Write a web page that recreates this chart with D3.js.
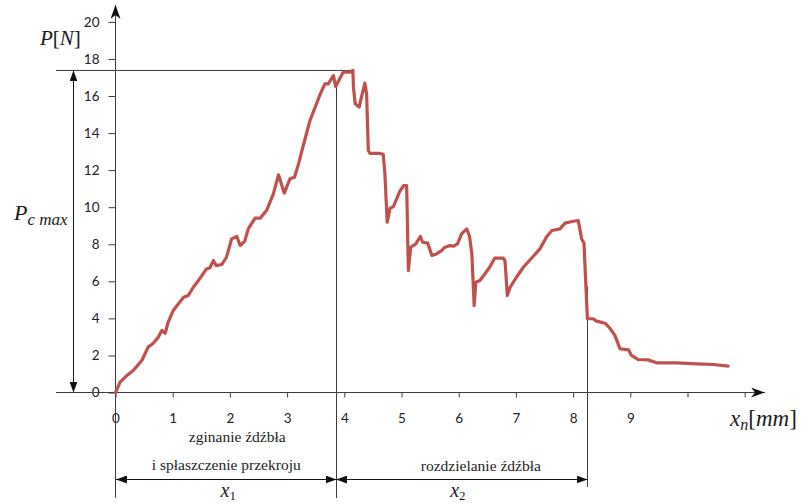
<!DOCTYPE html>
<html>
<head>
<meta charset="utf-8">
<script src="https://cdn.jsdelivr.net/npm/d3@7"></script>
<style>
  body { margin: 0; background: #fff; }
  svg { display: block; }
</style>
</head>
<body>
<svg width="808" height="504"></svg>
<script>

// displacement x_n [mm] and force P [N]
const xn = [0, 0.08, 0.2, 0.31, 0.46, 0.57, 0.66, 0.75, 0.81, 0.87, 0.92, 1.01, 1.10, 1.19, 1.27, 1.36, 1.45, 1.59, 1.65, 1.71,
            1.76, 1.86, 1.94, 2.03, 2.12, 2.18, 2.26, 2.32, 2.44, 2.53, 2.64, 2.76, 2.85, 2.95, 3.05, 3.13, 3.2, 3.26, 3.40, 3.57,
            3.66, 3.72, 3.81, 3.85, 3.92, 3.98, 4.10, 4.15, 4.16, 4.19, 4.26, 4.30, 4.36, 4.39, 4.42, 4.45, 4.62, 4.68, 4.71, 4.75,
            4.80, 4.86, 4.97, 5.04, 5.09, 5.12, 5.16, 5.25, 5.33, 5.37, 5.46, 5.53, 5.61, 5.70, 5.76, 5.85, 5.91, 5.98, 6.05, 6.14,
            6.19, 6.23, 6.27, 6.30, 6.37, 6.46, 6.54, 6.63, 6.78, 6.81, 6.85, 6.90, 7.01, 7.13, 7.28, 7.42, 7.54, 7.63, 7.77, 7.86,
            7.98, 8.09, 8.15, 8.19, 8.25, 8.35, 8.41, 8.56, 8.65, 8.73, 8.82, 8.97, 9.02, 9.14, 9.31, 9.46, 9.81, 10.16, 10.45, 10.71];
const p  = [0, 0.56, 0.92, 1.19, 1.73, 2.45, 2.66, 2.99, 3.35, 3.2, 3.79, 4.43, 4.79, 5.14, 5.23, 5.68, 6.04, 6.67, 6.73, 7.12,
            6.85, 6.91, 7.3, 8.29, 8.42, 7.93, 8.17, 8.83, 9.41, 9.41, 9.82, 10.72, 11.75, 10.76, 11.53, 11.62, 12.34, 13.06, 14.68, 16.03,
            16.66, 16.66, 17.1, 16.51, 16.93, 17.29, 17.29, 17.38, 16.48, 15.58, 15.4, 15.94, 16.69, 16.12, 13.06, 12.9, 12.9, 12.85, 11.8, 9.19,
            9.95, 10.04, 10.85, 11.17, 11.17, 6.58, 7.84, 8.02, 8.42, 8.11, 8.06, 7.39, 7.48, 7.66, 7.84, 7.93, 7.9, 8.02, 8.56, 8.83,
            8.42, 7.48, 4.69, 5.95, 6.04, 6.41, 6.76, 7.25, 7.25, 7.1, 5.23, 5.68, 6.22, 6.76, 7.27, 7.75, 8.42, 8.74, 8.83, 9.14,
            9.23, 9.28, 8.29, 8.05, 3.98, 3.98, 3.85, 3.74, 3.44, 3.08, 2.36, 2.3, 2.0, 1.78, 1.76, 1.6, 1.6, 1.55, 1.51, 1.42];

const yTicks = [0, 2, 4, 6, 8, 10, 12, 14, 16, 18, 20];
const xTicks = [0, 1, 2, 3, 4, 5, 6, 7, 8, 9, 10, 11];
const xTickLabels = ["0", "1", "2", "3", "4", "5", "6", "7", "8", "9", "", ""];

const pcMax = 17.38;
const pcMaxAt = 4.15;
const phaseBounds = [0, 3.85, 8.25];
const boundTops = [20.5, 16.5, 5.72];
const phaseLines = [["zginanie źdźbła", "i spłaszczenie przekroju"], ["rozdzielanie źdźbła"]];
const phaseSubs = ["1", "2"];

const svg = d3.select("svg");
const ink = "#3c3c3c";

const x = d3.scaleLinear().domain([0, 11]).range([115.5, 744.7]);
const y = d3.scaleLinear().domain([0, 20]).range([392.5, 21.9]);

// arrow heads
const defs = svg.append("defs");
defs.append("marker")
    .attr("id", "tri")
    .attr("viewBox", "0 0 11 8")
    .attr("refX", 11).attr("refY", 4)
    .attr("markerWidth", 11).attr("markerHeight", 8)
    .attr("markerUnits", "userSpaceOnUse")
    .attr("orient", "auto-start-reverse")
    .append("path").attr("d", "M0,0L11,4L0,8Z").attr("fill", "#111");
defs.append("marker")
    .attr("id", "stealth")
    .attr("viewBox", "0 0 14 10")
    .attr("refX", 14).attr("refY", 5)
    .attr("markerWidth", 14).attr("markerHeight", 10)
    .attr("markerUnits", "userSpaceOnUse")
    .attr("orient", "auto")
    .append("path").attr("d", "M0,0L14,5L0,10L4,5Z").attr("fill", "#111");

// axes
let yAxis = d3.axisLeft(y).tickValues(yTicks).tickSize(7).tickPadding(9).tickSizeOuter(0);
svg.append("g")
   .attr("transform", `translate(${x(0)},0)`)
   .call(yAxis)
   .call(g => g.select(".domain").remove())
   .call(g => g.selectAll("line").attr("stroke", ink))
   .call(g => g.selectAll("text").attr("font-family", "Lato, 'Open Sans', sans-serif").attr("font-size", 13.5).attr("fill", "#222"));

let xAxis = d3.axisBottom(x).tickValues(xTicks).tickFormat((d, i) => xTickLabels[i]).tickSize(5).tickPadding(16).tickSizeOuter(0);
svg.append("g")
   .attr("transform", `translate(0,${y(0)})`)
   .call(xAxis)
   .call(g => g.select(".domain").remove())
   .call(g => g.selectAll("line").attr("stroke", ink))
   .call(g => g.selectAll("text").attr("font-family", "Lato, 'Open Sans', sans-serif").attr("font-size", 13.5).attr("fill", "#222"));

// axis lines with arrows
svg.append("line")
   .attr("x1", 56).attr("x2", 765)
   .attr("y1", y(0)).attr("y2", y(0))
   .attr("stroke", ink).attr("marker-end", "url(#stealth)");
svg.append("line")
   .attr("x1", x(0)).attr("x2", x(0))
   .attr("y1", 498).attr("y2", 5)
   .attr("stroke", ink).attr("marker-end", "url(#stealth)");

// Pc max guide
svg.append("line")
   .attr("x1", 56).attr("x2", x(pcMaxAt))
   .attr("y1", y(pcMax)).attr("y2", y(pcMax))
   .attr("stroke", ink);
svg.append("line")
   .attr("x1", 73.5).attr("x2", 73.5)
   .attr("y1", y(pcMax)).attr("y2", y(0))
   .attr("stroke", "#111")
   .attr("marker-start", "url(#tri)").attr("marker-end", "url(#tri)");

// phase boundaries
svg.selectAll(".bound")
   .data(phaseBounds.slice(1))
   .enter()
   .append("line")
   .attr("class", "bound")
   .attr("x1", d => Math.round(x(d)) + 0.5).attr("x2", d => Math.round(x(d)) + 0.5)
   .attr("y1", (d, i) => y(boundTops[i + 1]))
   .attr("y2", (d, i) => i === 0 ? 498 : 487)
   .attr("stroke", ink);

// curve
const pts = xn.map((d, i) => [d, p[i]]);
svg.append("path")
   .datum(pts)
   .attr("d", d3.line().x(d => x(d[0])).y(d => y(d[1])))
   .attr("fill", "none")
   .attr("stroke", "#C0504D")
   .attr("stroke-width", 3.2)
   .attr("stroke-linejoin", "round")
   .attr("stroke-linecap", "round");

// dimension arrows under the axis
const dimY = 479.5;
phaseBounds.slice(1).forEach((b, i) => {
    let a = x(phaseBounds[i]) + 0.5, c = Math.round(x(b)) + 0.5;
    svg.append("line")
       .attr("x1", a).attr("x2", c)
       .attr("y1", dimY).attr("y2", dimY)
       .attr("stroke", "#111")
       .attr("marker-start", "url(#tri)").attr("marker-end", "url(#tri)");

    let mid = (a + c) / 2;
    let tx = svg.append("text")
       .attr("x", mid + (i === 0 ? 2 : -4)).attr("y", 497)
       .attr("text-anchor", "middle")
       .attr("font-family", "'Liberation Serif', serif")
       .attr("font-style", "italic")
       .attr("font-size", 20).attr("fill", "#222");
    tx.append("tspan").text("x");
    tx.append("tspan").attr("font-size", 13).attr("font-style", "normal").attr("dy", 3).text(phaseSubs[i]);

    phaseLines[i].forEach((t, k) => {
        let n = phaseLines[i].length;
        svg.append("text")
           .attr("x", mid + (i === 0 ? (k === 0 ? 11 : 0) : 19))
           .attr("y", n === 2 ? (k === 0 ? 442 : 470) : 471)
           .attr("text-anchor", "middle")
           .attr("font-family", "'Liberation Serif', 'Times New Roman', serif")
           .attr("font-size", 15.5).attr("fill", "#222")
           .text(t);
    });
});

// axis titles
let pt = svg.append("text")
   .attr("x", 40).attr("y", 45)
   .attr("font-family", "'Liberation Serif', serif")
   .attr("font-size", 21).attr("fill", "#1a1a1a");
pt.append("tspan").attr("font-style", "italic").text("P");
pt.append("tspan").text("[");
pt.append("tspan").attr("font-style", "italic").text("N");
pt.append("tspan").text("]");

let xt = svg.append("text")
   .attr("x", 730).attr("y", 426)
   .attr("font-family", "'Liberation Serif', serif")
   .attr("font-size", 23).attr("fill", "#1a1a1a");
xt.append("tspan").attr("font-style", "italic").text("x");
xt.append("tspan").attr("font-style", "italic").attr("font-size", 16).attr("dy", 4).text("n");
xt.append("tspan").attr("dy", -4).text("[");
xt.append("tspan").attr("font-style", "italic").text("mm");
xt.append("tspan").text("]");

let pc = svg.append("text")
   .attr("x", 14).attr("y", 220)
   .attr("font-family", "'Liberation Serif', serif")
   .attr("font-style", "italic")
   .attr("font-size", 22).attr("fill", "#1a1a1a");
pc.append("tspan").text("P");
pc.append("tspan").attr("font-size", 17).attr("dy", 5).text("c max");

</script>
</body>
</html>
